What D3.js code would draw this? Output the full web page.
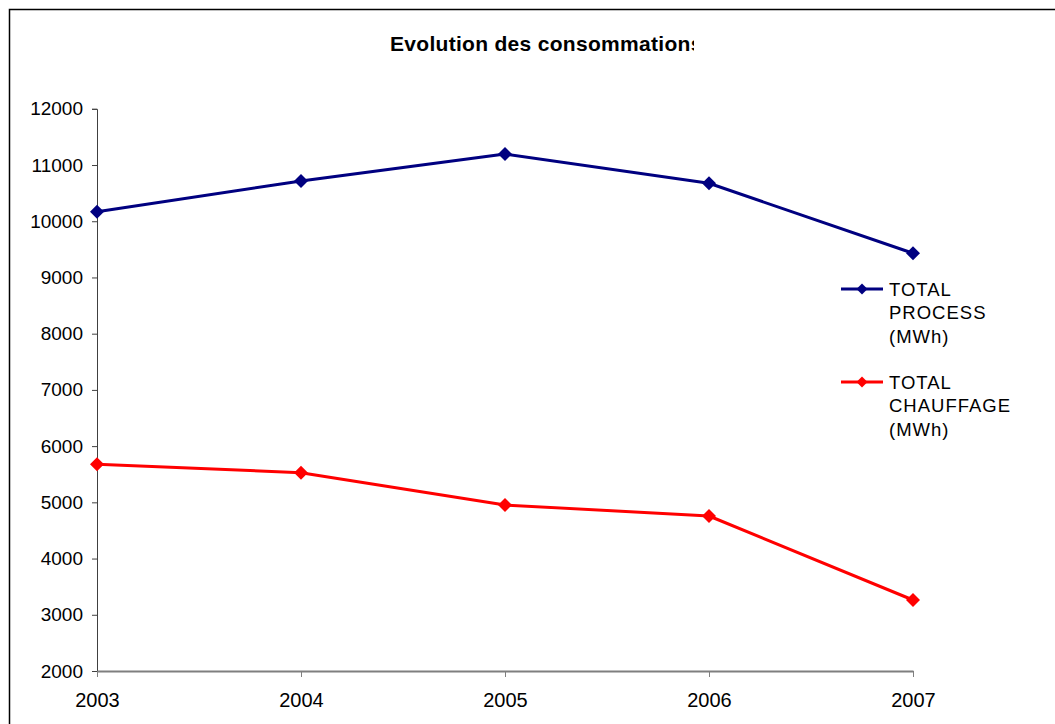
<!DOCTYPE html>
<html>
<head>
<meta charset="utf-8">
<script src="https://cdn.jsdelivr.net/npm/d3@7"></script>
<style>
  html, body { margin: 0; padding: 0; background: #fff; }
  svg { display: block; font-family: "Liberation Sans", Arial, sans-serif; }
</style>
</head>
<body>
<svg id="chart" width="1055" height="724"></svg>
<script>
const years = ["2003", "2004", "2005", "2006", "2007"];
const processValues = [10170, 10716, 11196, 10675, 9430];
const chauffageValues = [5677, 5527, 4953, 4757, 3263];
const yTicks = [2000, 3000, 4000, 5000, 6000, 7000, 8000, 9000, 10000, 11000, 12000];
const seriesNames = [["TOTAL", "PROCESS", "(MWh)"], ["TOTAL", "CHAUFFAGE", "(MWh)"]];
const titleText = "Evolution des consommations";

const series = [
  { values: processValues, color: "#000080", label: seriesNames[0] },
  { values: chauffageValues, color: "#FF0000", label: seriesNames[1] }
];

const svg = d3.select("#chart");

// outer frame
svg.append("rect")
  .attr("x", 9.5).attr("y", 9.5)
  .attr("width", 1100).attr("height", 800)
  .attr("fill", "none").attr("stroke", "#000").attr("stroke-width", 1.5);

const x = d3.scalePoint().domain(years).range([97, 913]);
const y = d3.scaleLinear().domain([2000, 12000]).range([671, 108.8]);

// title (clipped like the original)
svg.append("clipPath").attr("id", "titleClip")
  .append("rect").attr("x", 380).attr("y", 20).attr("width", 314).attr("height", 50);
svg.append("text")
  .attr("x", 390).attr("y", 51)
  .attr("clip-path", "url(#titleClip)")
  .attr("font-size", 21).attr("font-weight", "bold").attr("fill", "#000")
  .attr("letter-spacing", 0.3)
  .text(titleText);

// Y axis
const yAxis = svg.append("g")
  .attr("transform", "translate(97,0)")
  .call(d3.axisLeft(y).tickValues(yTicks).tickSize(5).tickPadding(9).tickFormat(d3.format("d")));
yAxis.select(".domain").attr("stroke", "#404040").attr("stroke-width", 1);
yAxis.selectAll(".tick line").attr("stroke", "#404040");
yAxis.selectAll(".tick text").attr("font-size", 19).attr("fill", "#000")
  .attr("font-family", "Liberation Sans, Arial, sans-serif");

// X axis
const xAxis = svg.append("g")
  .attr("transform", "translate(0,671)")
  .call(d3.axisBottom(x).tickSize(6).tickPadding(0).tickSizeOuter(0));
xAxis.select(".domain").attr("stroke", "#7f7f7f").attr("stroke-width", 2);
xAxis.selectAll(".tick line").attr("stroke", "#7f7f7f").attr("stroke-width", 1);
xAxis.selectAll(".tick text").attr("font-size", 20).attr("fill", "#000")
  .attr("dy", null).attr("y", 36)
  .attr("font-family", "Liberation Sans, Arial, sans-serif");

// lines + markers
const line = d3.line().x((d, i) => x(years[i])).y(d => y(d));
const square = d3.symbol().type(d3.symbolSquare);

series.forEach(s => {
  svg.append("path")
    .datum(s.values)
    .attr("d", line)
    .attr("fill", "none")
    .attr("stroke", s.color)
    .attr("stroke-width", 3)
    .attr("stroke-linejoin", "round");
  svg.append("g").selectAll("path")
    .data(s.values)
    .join("path")
    .attr("transform", (d, i) => `translate(${x(years[i])},${y(d)}) rotate(45)`)
    .attr("d", square.size(98))
    .attr("fill", s.color);
});

// legend
const legendY = [289, 382];
series.forEach((s, k) => {
  const g = svg.append("g").attr("transform", `translate(0,${legendY[k]})`);
  g.append("line").attr("x1", 841).attr("x2", 883).attr("y1", 0).attr("y2", 0)
    .attr("stroke", s.color).attr("stroke-width", 3);
  g.append("path").attr("transform", "translate(862,0) rotate(45)")
    .attr("d", square.size(60)).attr("fill", s.color);
  s.label.forEach((t, j) => {
    g.append("text")
      .attr("x", 889).attr("y", 6.5 + j * 23.5)
      .attr("font-size", 18.5).attr("letter-spacing", 1).attr("fill", "#000")
      .text(t);
  });
});
</script>
</body>
</html>
